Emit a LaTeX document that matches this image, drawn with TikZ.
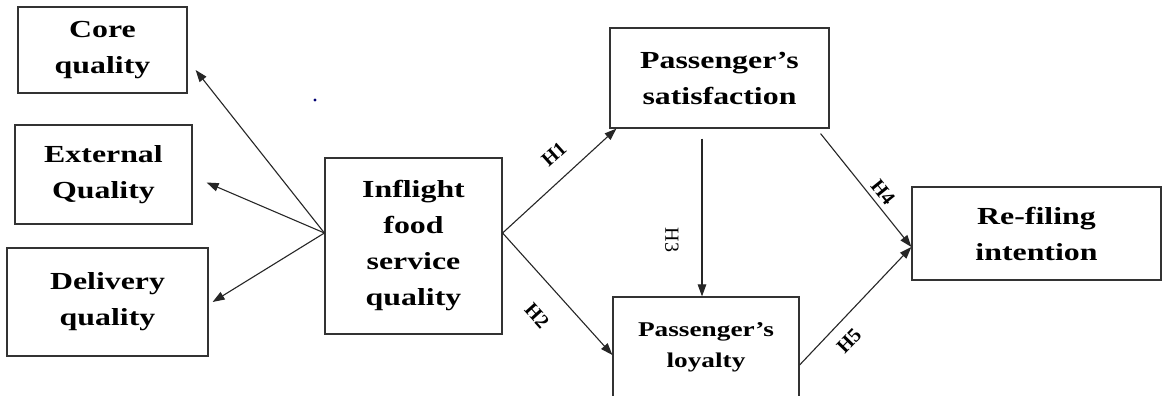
\documentclass[tikz,border=0pt]{standalone}
\usepackage{fontspec}
\setmainfont{Liberation Serif}[FakeStretch=1.3]
\newfontfamily\labelfont{Liberation Serif}
\usetikzlibrary{arrows.meta}
\begin{document}
\begin{tikzpicture}[x=1pt,y=-1pt,
  box/.style={draw=black!80, line width=1.2pt, align=center, inner sep=0pt,
    font=\bfseries\fontsize{24.5}{36}\selectfont},
  smallbox/.style={box, font=\bfseries\fontsize{21}{31}\selectfont},
  link/.style={draw=black!85, line width=1.1pt, -{Triangle[length=12pt,width=8.5pt]}},
  hyp/.style={font=\labelfont\bfseries\fontsize{20}{20}\selectfont, inner sep=0pt},
  hypthin/.style={font=\labelfont\fontsize{20}{20}\selectfont, inner sep=0pt}]
\clip (0,0) rectangle (1163,396);
\fill[white] (0,0) rectangle (1163,396);

% dimension boxes on the left
\node[box, minimum width=169pt, minimum height=86pt]  (core) at (102.5,50)   {Core\\quality};
\node[box, minimum width=177pt, minimum height=99pt]  (ext)  at (103.5,174.5) {External\\Quality};
\node[box, minimum width=201pt, minimum height=108pt] (del)  at (107.5,302)  {Delivery\\quality};

% central construct
\node[box, minimum width=177pt, minimum height=176pt] (inf) at (413.5,246)
  {Inflight\\food\\service\\quality};

% outcomes
\node[box, minimum width=219pt, minimum height=100pt] (sat) at (719.5,78)
  {Passenger’s\\satisfaction};
\node[smallbox, minimum width=186pt, minimum height=101pt] (loy) at (706,347.5)
  {Passenger’s\\loyalty};
\node[box, minimum width=249pt, minimum height=93pt] (ref) at (1036.5,233.5)
  {Re-filing\\intention};

% stray speck
\fill[blue!45!black] (315,100) circle (1.6pt);

% connector end points
\coordinate (infL) at ([yshift=13pt]inf.west);
\coordinate (infR) at ([yshift=13pt]inf.east);
\coordinate (coreTip) at ([xshift=8pt,yshift=-20pt]core.east);
\coordinate (extTip) at ([xshift=14pt,yshift=-8pt]ext.east);
\coordinate (delTip) at ([xshift=4pt]del.east);
\coordinate (h1Tip) at ([xshift=7pt]sat.south west);
\coordinate (h2Tip) at ([yshift=-7.5pt]loy.west);
\coordinate (h3Start) at ([xshift=-17.5pt,yshift=-10pt]sat.south);
\coordinate (h3Tip) at (h3Start |- loy.north);
\coordinate (h4Start) at ([xshift=-9pt,yshift=-5pt]sat.south east);
\coordinate (refIn) at ([yshift=-13.5pt]ref.west);
\coordinate (h5Start) at ([yshift=-17.5pt]loy.east);

% connectors
\draw[link] (infL) -- (coreTip);
\draw[link] (infL) -- (extTip);
\draw[link] (infL) -- (delTip);
\draw[link] (infR) -- (h1Tip);
\draw[link] (infR) -- (h2Tip);
\draw[link] (h3Start) -- (h3Tip);
\draw[link] (h4Start) -- (refIn);
\draw[link] (h5Start) -- (refIn);

% hypothesis labels
\node[hyp, rotate=42]  (lh1) at (554,154) {H1};
\node[hyp, rotate=-48] (lh2) at (537,316) {H2};
\node[hypthin, rotate=-90] (lh3) at (672,240) {H3};
\node[hyp, rotate=-51] (lh4) at (883,192) {H4};
\node[hyp, rotate=46]  (lh5) at (849,341) {H5};
\end{tikzpicture}
\end{document}
